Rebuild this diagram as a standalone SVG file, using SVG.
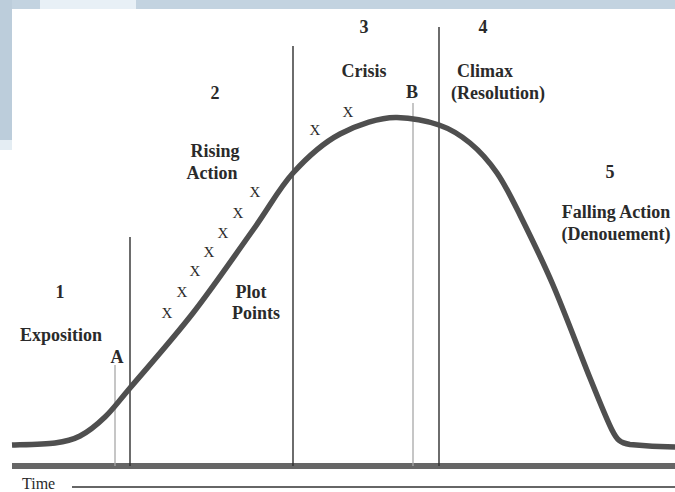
<svg xmlns="http://www.w3.org/2000/svg" width="675" height="492" viewBox="0 0 675 492">
<style>
.lbl{font-family:"Liberation Serif","Times New Roman",serif;font-weight:bold;font-size:18px;fill:#2a2a2a;text-anchor:middle}
.x{font-family:"Liberation Serif","Times New Roman",serif;font-size:15px;fill:#2a2a2a;text-anchor:middle}
.div{stroke:#2e2e2e;stroke-width:1.4}
.mark{stroke:#a8a8a8;stroke-width:1.3}
</style>
<g id="background">
<rect x="0" y="0" width="675" height="492" fill="#ffffff"/>
<rect x="0" y="0" width="675" height="9" fill="#c3d3e0"/>
<rect x="40" y="0" width="96" height="9" fill="#e8f0f6"/>
<rect x="0" y="0" width="12" height="140" fill="#bccddb"/>
<rect x="0" y="140" width="12" height="10" fill="#e4edf3"/>
</g>
<g id="axes">
<line x1="12" y1="466" x2="675" y2="466" stroke="#666" stroke-width="6"/>
<line x1="72" y1="487" x2="675" y2="487" stroke="#333" stroke-width="1.5"/>
<text x="22" y="489" font-family="'Liberation Serif','Times New Roman',serif" font-size="16" fill="#2a2a2a">Time</text>
</g>
<g id="dividers">
<line class="div" x1="130" y1="237" x2="130" y2="466"/>
<line class="div" x1="293" y1="46" x2="293" y2="466"/>
<line class="div" x1="439" y1="27" x2="439" y2="466"/>
<line class="mark" x1="115" y1="365" x2="115" y2="466"/>
<line class="mark" x1="413" y1="103" x2="413" y2="466"/>
</g>
<g id="curve">
<path d="M12,445 C19.2,444.7 43.7,444.5 55,443 C66.3,441.5 71.7,440.3 80,436 C88.3,431.7 96.7,425 105,417 C113.3,409 115.3,405.3 130,388 C144.7,370.7 172.5,339.3 193,313 C213.5,286.7 236.3,253.3 253,230 C269.7,206.7 278.5,189 293,173 C307.5,157 322.7,143.2 340,134 C357.3,124.8 380.5,117 397,117.5 C413.5,118 426.8,120.8 439,125 C451.2,129.2 460.3,135 470,143 C479.7,151 488.7,161 497,173 C505.3,185 510.7,196.3 520,215 C529.3,233.7 541.3,257.8 553,285 C564.7,312.2 580.2,353.8 590,378 C599,400 606,418 612,430 C617,440 620,443 630,444.5 C645,446 660,446.8 675,447" fill="none" stroke="#4f4f4f" stroke-width="5.5"/>
</g>
<g id="stage1">
<text class="lbl" x="60" y="298">1</text>
<text class="lbl" x="61" y="341">Exposition</text>
<text class="lbl" x="117" y="363">A</text>
</g>
<g id="stage2">
<text class="lbl" x="215" y="99">2</text>
<text class="lbl" x="215" y="157">Rising</text>
<text class="lbl" x="212" y="179">Action</text>
<text class="lbl" x="251" y="298">Plot</text>
<text class="lbl" x="256" y="319">Points</text>
</g>
<g id="plot-points">
<text class="x" x="167" y="318">X</text>
<text class="x" x="182" y="297">X</text>
<text class="x" x="195" y="276">X</text>
<text class="x" x="209" y="257">X</text>
<text class="x" x="223" y="238">X</text>
<text class="x" x="238" y="218">X</text>
<text class="x" x="255" y="197">X</text>
<text class="x" x="315" y="135">X</text>
<text class="x" x="348" y="117">X</text>
</g>
<g id="stage3">
<text class="lbl" x="364" y="33">3</text>
<text class="lbl" x="364" y="77">Crisis</text>
<text class="lbl" x="412" y="98">B</text>
</g>
<g id="stage4">
<text class="lbl" x="483" y="33">4</text>
<text class="lbl" x="485" y="77">Climax</text>
<text class="lbl" x="498" y="99">(Resolution)</text>
</g>
<g id="stage5">
<text class="lbl" x="610" y="178">5</text>
<text class="lbl" x="616" y="218">Falling Action</text>
<text class="lbl" x="616" y="240">(Denouement)</text>
</g>
</svg>
